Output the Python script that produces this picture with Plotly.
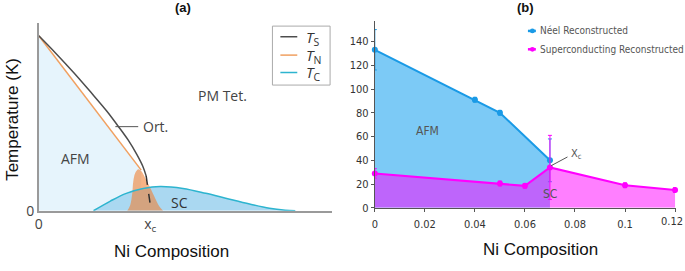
import plotly.graph_objects as go

# ---------------- Panel (a): schematic phase diagram (arbitrary units) ----------------
ts_x = [0, 17, 35, 52, 68.5, 79.5, 90, 98.7, 104.6, 108]
ts_y = [181, 163, 143, 123, 103, 88, 73, 58, 46, 36]
ts_dash_x = [108, 113]
ts_dash_y = [36, 0]
tn_x = [0, 103]
tn_y = [181, 42]
tc_x = [55, 72, 88, 105, 122, 145, 168, 188, 212, 232, 248, 258]
tc_y = [0, 10, 18, 23, 25, 23, 18, 13, 7, 2.5, 0.5, 0]
fluct_x = [89, 92, 94, 95, 97, 100, 103, 107, 112, 117, 121, 125]
fluct_y = [0, 6, 18, 30, 39, 43, 41, 34, 24, 13, 5, 0]
a_xticks = [0, 112]
a_xticklabels = ["0", "x<sub>c</sub>"]

# ---------------- Panel (b): reconstructed data ----------------
neel_x = [0, 0.04, 0.05, 0.07]
neel_y = [133, 91, 80, 40]
neel_err = [17, 2, 2, 18]
sc_x = [0, 0.05, 0.06, 0.07, 0.1, 0.12]
sc_y = [29, 20.5, 18.5, 34, 19, 15]
sc_err = [4, 2, 2, 27, 2, 2]
b_yticks = [0, 20, 40, 60, 80, 100, 120, 140]
b_xticks = [0, 0.02, 0.04, 0.06, 0.08, 0.1, 0.12]
b_xticklabels = ["0", "0.02", "0.04", "0.06", "0.08", "0.1", "0.12"]

W, H = 685, 271
def px(x):
    return x / W
def py(y):
    return 1 - y / H

NARROW = "Liberation Sans Narrow, Arial Narrow, DejaVu Sans Condensed, Liberation Sans, sans-serif"
SANS = "Liberation Sans, Arial, sans-serif"
HUM = "Open Sans, Noto Sans, sans-serif"

fig = go.Figure()

# ---- panel (a) traces ----
fig.add_trace(go.Scatter(x=tn_x, y=tn_y, mode="lines", fill="tozeroy",
                         fillcolor="#e6f4fc", line=dict(color="rgba(0,0,0,0)", width=0),
                         xaxis="x", yaxis="y", showlegend=False, hoverinfo="skip"))
fig.add_trace(go.Scatter(x=tc_x, y=tc_y, mode="lines", fill="tozeroy",
                         fillcolor="#aad8f1", line=dict(color="rgba(0,0,0,0)", width=0),
                         xaxis="x", yaxis="y", showlegend=False, hoverinfo="skip",
                         line_shape="spline"))
fig.add_trace(go.Scatter(x=fluct_x, y=fluct_y, mode="lines", fill="toself",
                         fillcolor="rgba(240,128,52,0.6)", line=dict(color="rgba(0,0,0,0)", width=0),
                         xaxis="x", yaxis="y", showlegend=False, hoverinfo="skip",
                         line_shape="spline"))
fig.add_trace(go.Scatter(x=tn_x, y=tn_y, mode="lines", line=dict(color="#f0a060", width=1.5),
                         xaxis="x", yaxis="y", showlegend=False, hoverinfo="skip"))
fig.add_trace(go.Scatter(x=ts_x, y=ts_y, mode="lines", line=dict(color="#4d4d4d", width=1.5),
                         xaxis="x", yaxis="y", showlegend=False, hoverinfo="skip",
                         line_shape="spline"))
fig.add_trace(go.Scatter(x=ts_dash_x, y=ts_dash_y, mode="lines",
                         line=dict(color="#333333", width=1.5, dash="dash"),
                         xaxis="x", yaxis="y", showlegend=False, hoverinfo="skip"))
fig.add_trace(go.Scatter(x=tc_x, y=tc_y, mode="lines", line=dict(color="#2db4cf", width=1.5),
                         xaxis="x", yaxis="y", showlegend=False, hoverinfo="skip",
                         line_shape="spline"))

# ---- panel (b) traces ----
fig.add_trace(go.Scatter(x=neel_x, y=neel_y, mode="lines+markers", fill="tozeroy",
                         fillcolor="#7ccaf6", line=dict(color="#1a9ae6", width=2),
                         marker=dict(color="#1a9ae6", size=6),
                         error_y=dict(type="data", array=neel_err, color="#1a9ae6",
                                      thickness=1, width=2),
                         xaxis="x2", yaxis="y2", showlegend=False, cliponaxis=False))
fig.add_trace(go.Scatter(x=sc_x, y=sc_y, mode="lines+markers", fill="tozeroy",
                         fillcolor="rgba(255,0,255,0.5)", line=dict(color="#ff00ff", width=2),
                         marker=dict(color="#ff00ff", size=6),
                         error_y=dict(type="data", array=sc_err, color="#ff00ff",
                                      thickness=1, width=2),
                         xaxis="x2", yaxis="y2", showlegend=False, cliponaxis=False))

shapes = []
annotations = []

def ann(**kw):
    kw.setdefault("showarrow", False)
    kw.setdefault("xanchor", "center")
    kw.setdefault("yanchor", "middle")
    annotations.append(kw)

# ---- panel (a) legend box ----
shapes.append(dict(type="rect", xref="paper", yref="paper",
                   x0=px(270), x1=px(328), y0=py(88), y1=py(27),
                   line=dict(color="#aaaaaa", width=1), fillcolor="white"))
leg_a = [("S", "#4d4d4d", 38), ("N", "#f0a060", 57), ("C", "#2db4cf", 75)]
for sub, col, yy in leg_a:
    shapes.append(dict(type="line", xref="paper", yref="paper",
                       x0=px(278), x1=px(295), y0=py(yy), y1=py(yy),
                       line=dict(color=col, width=1.5)))
    ann(xref="paper", yref="paper", x=px(302), y=py(yy + 1), xanchor="left",
        text="<i>T</i><sub>%s</sub>" % sub,
        font=dict(family=HUM, size=15, color="#333333"))

# ---- panel (a) labels ----
ann(xref="x", yref="y", x=37, y=54, text="AFM",
    font=dict(family=HUM, size=14, color="#444444"))
ann(xref="x", yref="y", x=185, y=119, text="PM Tet.",
    font=dict(family=HUM, size=14, color="#444444"))
ann(xref="x", yref="y", x=103, y=87, text="Ort.", xanchor="left",
    font=dict(family=HUM, size=14, color="#444444"))
ann(xref="x", yref="y", x=142, y=9, text="SC",
    font=dict(family=HUM, size=14, color="#333333"))
shapes.append(dict(type="line", xref="x", yref="y", x0=77, x1=100, y0=87, y1=87,
                   line=dict(color="#555555", width=1)))

# ---- panel (b) labels ----
ann(xref="x2", yref="y2", x=0.0211, y=65, text="AFM",
    font=dict(family=NARROW, size=12, color="#555555"))
ann(xref="x2", yref="y2", x=0.0699, y=12, text="SC",
    font=dict(family=NARROW, size=12, color="#555555"))
annotations.append(dict(xref="x2", yref="y2", x=0.0705, y=35.5, ax=0.0776, ay=43.5,
                        axref="x2", ayref="y2", showarrow=True, arrowhead=0, arrowwidth=1,
                        arrowcolor="#555555", text=""))
ann(xref="x2", yref="y2", x=0.0776, y=45.5, text="X<sub>c</sub>", xanchor="left",
    font=dict(family=NARROW, size=11, color="#555555"))

# last x tick label of panel (b), kept inside the page edge
ann(xref="paper", yref="paper", x=1.0, y=py(229), xanchor="right",
    text=b_xticklabels[-1], font=dict(family=NARROW, size=11, color="#333333"))
b_ticktext_axis = b_xticklabels[:-1] + [""]

# ---- panel (b) legend ----
leg_b = [("Néel Reconstructed", "#1a9ae6", 32), ("Superconducting Reconstructed", "#ff00ff", 51)]
for name, col, yy in leg_b:
    shapes.append(dict(type="line", xref="paper", yref="paper",
                       x0=px(527), x1=px(535), y0=py(yy), y1=py(yy),
                       line=dict(color=col, width=2.5)))
    shapes.append(dict(type="circle", xref="paper", yref="paper",
                       x0=px(529), x1=px(534), y0=py(yy + 2.5), y1=py(yy - 2.5),
                       line=dict(color=col, width=0), fillcolor=col))
    ann(xref="paper", yref="paper", x=px(537), y=py(yy), xanchor="left", text=name,
        font=dict(family=NARROW, size=10, color="#555555"))

# ---- titles ----
ann(xref="paper", yref="paper", x=px(180), y=py(8), text="<b>(a)</b>",
    font=dict(family=SANS, size=13, color="#111111"))
ann(xref="paper", yref="paper", x=px(525), y=py(8), text="<b>(b)</b>",
    font=dict(family=SANS, size=13, color="#111111"))
ann(xref="paper", yref="paper", x=px(168), y=py(260), text="Ni Composition",
    font=dict(family=SANS, size=17, color="#111111"))
ann(xref="paper", yref="paper", x=px(540), y=py(258), text="Ni Composition",
    font=dict(family=SANS, size=17, color="#111111"))
ann(xref="paper", yref="paper", x=px(9), y=py(123), text="Temperature (K)",
    textangle=-90, font=dict(family=SANS, size=17, color="#111111"))

fig.update_layout(
    autosize=True,
    margin=dict(l=0, r=0, t=0, b=0),
    paper_bgcolor="white", plot_bgcolor="white",
    showlegend=False,
    xaxis=dict(domain=[px(35), px(330)], range=[0, 295], anchor="y",
               showline=True, linecolor="#9a9a9a", linewidth=1.5,
               showgrid=False, zeroline=False, ticks="",
               tickvals=a_xticks, ticktext=a_xticklabels,
               tickfont=dict(family=HUM, size=14, color="#444444")),
    yaxis=dict(domain=[py(218), py(24)], range=[0, 194], anchor="x",
               showline=True, linecolor="#9a9a9a", linewidth=1.5,
               showgrid=False, zeroline=False, ticks="",
               tickvals=[0], ticktext=["0"],
               tickfont=dict(family=HUM, size=14, color="#444444")),
    xaxis2=dict(domain=[px(373), px(676)], range=[0, 0.1204], anchor="y2",
                showline=True, linecolor="#555555", linewidth=1,
                showgrid=False, zeroline=False, ticks="outside", ticklen=3,
                tickcolor="#555555", ticklabelstandoff=3,
                tickvals=b_xticks, ticktext=b_ticktext_axis,
                tickfont=dict(family=NARROW, size=11, color="#333333")),
    yaxis2=dict(domain=[py(215), py(22)], range=[0, 157], anchor="x2",
                showline=True, linecolor="#555555", linewidth=1,
                showgrid=False, zeroline=False, ticks="outside", ticklen=3,
                tickcolor="#555555", tickvals=b_yticks,
                tickfont=dict(family=NARROW, size=11, color="#333333")),
    shapes=shapes,
    annotations=annotations,
)

fig.write_html(
    "out.html", config={"displayModeBar": False, "responsive": True},
    default_width="100vw", default_height="100vh",
    post_script="document.body.style.margin='0';document.body.style.padding='0';",
)
